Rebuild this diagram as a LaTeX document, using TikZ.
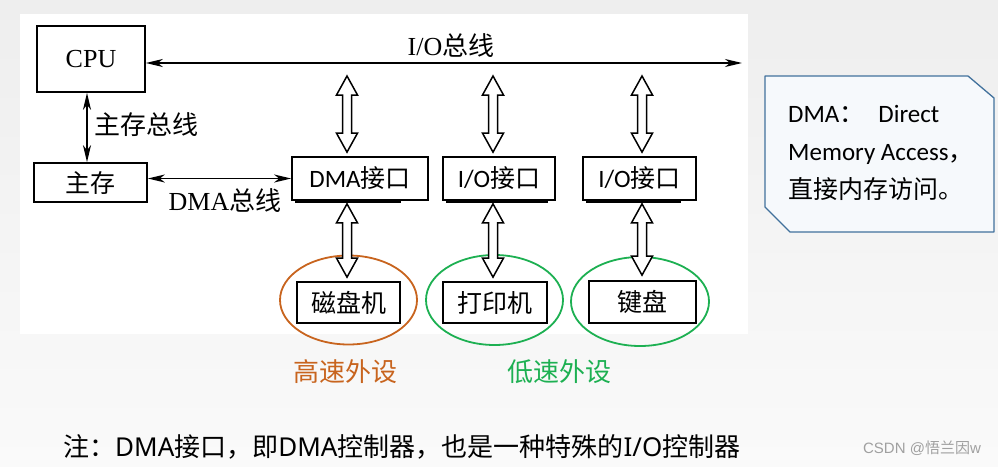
\documentclass[tikz,border=0pt]{standalone}
\usepackage{fontspec}
\setmainfont{Liberation Serif}
\newfontfamily\cjk{Noto Sans CJK SC}
\newfontfamily\carl{Carlito}
\newfontfamily\nsans{Noto Sans}
\newfontfamily\lsans{Liberation Sans}
\usetikzlibrary{arrows.meta,calc}
\definecolor{bgtop}{HTML}{EEEEEE}
\definecolor{bgbot}{HTML}{FAFAFA}
\definecolor{orangeC}{HTML}{C8641E}
\definecolor{greenC}{HTML}{1DB052}
\definecolor{calloutB}{HTML}{41719C}
\definecolor{calloutF}{HTML}{F6F9FC}
\definecolor{wmark}{HTML}{A0A0A0}
\newcommand\hollowarrow[3]{%
  \draw[hollow] let \p1=#1, \p2=#2, \p3=#3 in
    (\x1,\y2) -- (\x1+10.5pt,\y2-19pt) -- (\x1+4.5pt,\y2-19pt) -- (\x1+4.5pt,\y3+19pt)
    -- (\x1+10.5pt,\y3+19pt) -- (\x1,\y3) -- (\x1-10.5pt,\y3+19pt) -- (\x1-4.5pt,\y3+19pt)
    -- (\x1-4.5pt,\y2-19pt) -- (\x1-10.5pt,\y2-19pt) -- cycle;}
\begin{document}
\begin{tikzpicture}[x=1pt,y=-1pt,
  box/.style={draw=black, line width=1.7pt, fill=white, inner sep=0pt},
  bus/.style={line width=1.6pt, {Stealth[length=17pt,width=8pt,inset=5pt]}-{Stealth[length=17pt,width=8pt,inset=5pt]}},
  lbl/.style={font=\fontsize{26}{30}\selectfont, inner sep=0pt},
  lblb/.style={font=\fontsize{25}{30}\selectfont, inner sep=0pt},
  hollow/.style={line width=1.5pt, fill=white, line join=miter},
  shadowline/.style={line width=1.8pt},
  ring/.style={line width=1.8pt},
]
\useasboundingbox (0,0) rectangle (998,466);
\fill[top color=bgtop, bottom color=bgbot] (0,0) rectangle (998,466);
\fill[white] (20,14) rectangle (748,334);

% main boxes
\node[box, lbl, minimum width=108pt, minimum height=66pt, text depth=-6pt] (cpu) at (91,59) {CPU};
\node[box, lblb, minimum width=113pt, minimum height=39pt] (mem) at (90.5,182.5) {\cjk 主存};
\node[box, lblb, minimum width=136pt, minimum height=43pt] (dma) at (360,178.5) {\carl DMA\cjk 接口};
\node[box, lblb, minimum width=112pt, minimum height=43pt] (io1) at (499,178.5) {\carl I/O\cjk 接口};
\node[box, lblb, minimum width=113pt, minimum height=43pt] (io2) at (639.5,178.5) {\carl I/O\cjk 接口};
\draw[shadowline] ([shift={(4pt,-1.2pt)}]dma.south west) -- ([shift={(-28pt,-1.2pt)}]dma.south east);
\draw[shadowline] ([shift={(4pt,-1.2pt)}]io1.south west) -- ([shift={(-8pt,-1.2pt)}]io1.south east);
\draw[shadowline] ([shift={(4pt,-1.2pt)}]io2.south west) -- ([shift={(-16pt,-1.2pt)}]io2.south east);

% buses
\coordinate (busR) at (742,63);
\draw[bus] (cpu.east |- busR) -- (busR);
\node[lbl] (iolbl) at (451,46) {I/O\cjk 总线};
\draw[bus] ([xshift=-4pt]cpu.south) -- ([xshift=-3.5pt]mem.north);
\node[lbl, anchor=west] (memlbl) at (94,125) {\cjk 主存总线};
\draw[bus] (mem.east |- dma.west) -- (dma.west);
\node[lbl] (dmalbl) at (225,201) {DMA\cjk 总线};

% ellipses
\draw[ring, orangeC] (348.5,300) ellipse [x radius=68.5pt, y radius=44.5pt];
\draw[ring, greenC] (494.5,300) ellipse [x radius=68.5pt, y radius=45pt];
\draw[ring, greenC] (640,301.5) ellipse [x radius=69pt, y radius=44.5pt];

% peripherals
\node[box, lblb, minimum width=103pt, minimum height=41pt] (disk) at (348.5,302.5) {\cjk 磁盘机};
\node[box, lblb, minimum width=104pt, minimum height=41pt] (prn) at (495,302.5) {\cjk 打印机};
\node[box, lblb, minimum width=107pt, minimum height=42pt] (kbd) at (642.5,302) {\cjk 键盘};

% hollow arrows
\coordinate (a1) at (347,76);
\coordinate (a2) at (493,76);
\coordinate (a3) at (642,76);
\hollowarrow{(a1)}{(a1)}{($(dma.north)+(0,-4)$)}
\hollowarrow{(a2)}{(a2)}{($(io1.north)+(0,-4)$)}
\hollowarrow{(a3)}{(a3)}{($(io2.north)+(0,-4)$)}
\hollowarrow{(a1)}{($(dma.south)+(0,3)$)}{($(disk.north)+(0,-4)$)}
\hollowarrow{(a2)}{($(io1.south)+(0,3)$)}{($(prn.north)+(0,-4)$)}
\hollowarrow{(a3)}{($(io2.south)+(0,3)$)}{($(kbd.north)+(0,-5)$)}

% group labels
\node[lbl, text=orangeC] (fast) at (345.5,372) {\cjk 高速外设};
\node[lbl, text=greenC] (slow) at (559.5,372) {\cjk 低速外设};

% callout
\draw[calloutB, fill=calloutF, line width=1.3pt, line join=round]
  (765,76) -- (968,76) -- (994,98) -- (994,232) -- (790,232) -- (765,207) -- cycle;
\node[lblb, anchor=base west] (c1) at (788,122) {\carl DMA\cjk ：\hspace{14pt}\carl Direct};
\node[lblb, anchor=base west] (c2) at (788,160) {\carl Memory Access\cjk ，};
\node[lblb, anchor=base west] (c3) at (788,198) {\cjk 直接内存访问。};

% note
\node[font=\fontsize{26}{30}\selectfont, inner sep=0pt, anchor=west] (note) at (63,447)
  {\cjk 注：\nsans DMA\cjk 接口，即\nsans DMA\cjk 控制器，也是一种特殊的\nsans I/O\cjk 控制器};
\node[font=\fontsize{15}{18}\selectfont, inner sep=0pt, text=wmark] (wm) at (922,448)
  {\lsans CSDN @\cjk 悟兰因\lsans w};
\end{tikzpicture}
\end{document}
